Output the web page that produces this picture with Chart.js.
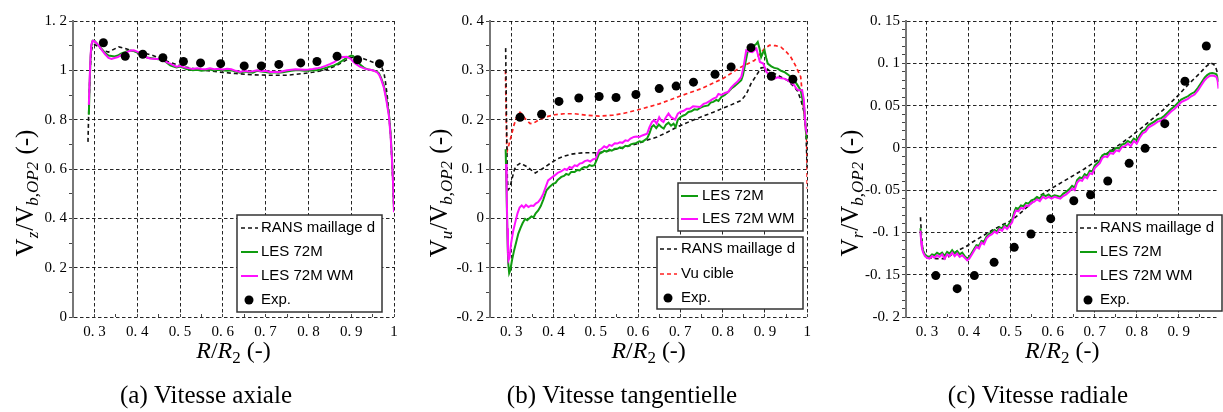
<!DOCTYPE html>
<html>
<head>
<meta charset="utf-8">
<script src="https://cdn.jsdelivr.net/npm/chart.js@4.4.0/dist/chart.umd.min.js"></script>
<style>
  body { margin: 0; background: #fff; }
  #wrap { position: relative; width: 1223px; height: 412px; }
  canvas { position: absolute; top: 0; }
</style>
</head>
<body>
<div id="wrap">
  <canvas id="chart-a" width="410" height="412" style="left:0"></canvas>
  <canvas id="chart-b" width="410" height="412" style="left:410px"></canvas>
  <canvas id="chart-c" width="403" height="412" style="left:820px"></canvas>
</div>
<script>
// ---- tick labels ----
const xTicksAB = [0.3, 0.4, 0.5, 0.6, 0.7, 0.8, 0.9, 1];
const xTicksC = [0.3, 0.4, 0.5, 0.6, 0.7, 0.8, 0.9];
const yTicksA = [0, 0.2, 0.4, 0.6, 0.8, 1, 1.2];
const yTicksB = [-0.2, -0.1, 0, 0.1, 0.2, 0.3, 0.4];
const yTicksC = [-0.2, -0.15, -0.1, -0.05, 0, 0.05, 0.1, 0.15];

const captions = ['(a) Vitesse axiale', '(b) Vitesse tangentielle', '(c) Vitesse radiale'];
const labels = { rans: 'RANS maillage d', les: 'LES 72M', wm: 'LES 72M WM', cible: 'Vu cible', exp: 'Exp.' };

// ---- experimental points (same radial stations for the 3 components) ----
const expX = [0.321, 0.372, 0.413, 0.46, 0.508, 0.548, 0.595, 0.65, 0.69, 0.731, 0.782, 0.82, 0.867, 0.915, 0.966];
const expA = [1.112, 1.057, 1.065, 1.051, 1.036, 1.03, 1.027, 1.018, 1.018, 1.024, 1.03, 1.036, 1.057, 1.043, 1.027];
const expB = [0.205, 0.211, 0.237, 0.244, 0.247, 0.245, 0.251, 0.263, 0.268, 0.276, 0.292, 0.307, 0.346, 0.288, 0.282];
const expC = [-0.151, -0.1665, -0.151, -0.1354, -0.1176, -0.1019, -0.0837, -0.0625, -0.0554, -0.0392, -0.0183, -0.0006, 0.0286, 0.0787, 0.1204];

// ---- (a) axial velocity, [R/R2, Vz] ----
const ransA = [[0.285,0.71],[0.287,0.85],[0.29,1.0],[0.293,1.08],[0.296,1.1],[0.3,1.105],[0.31,1.095],[0.32,1.08],[0.333,1.074],[0.345,1.085],[0.357,1.095],[0.37,1.09],[0.384,1.081],[0.4,1.075],[0.42,1.068],[0.435,1.061],[0.455,1.048],[0.474,1.034],[0.49,1.025],[0.513,1.013],[0.54,1.005],[0.56,1.0],[0.591,0.993],[0.63,0.987],[0.67,0.982],[0.709,0.98],[0.75,0.98],[0.788,0.987],[0.81,0.992],[0.835,1.0],[0.85,1.008],[0.866,1.02],[0.882,1.035],[0.897,1.05],[0.912,1.055],[0.929,1.047],[0.945,1.037],[0.96,1.027],[0.972,1.01],[0.977,0.985],[0.98,0.953],[0.984,0.9],[0.988,0.83],[0.992,0.74],[0.995,0.64],[0.998,0.52],[1.0,0.42]];
const lesA = [[0.287,0.82],[0.289,0.95],[0.291,1.05],[0.293,1.1],[0.296,1.12],[0.3,1.12],[0.305,1.11],[0.31,1.1],[0.318,1.085],[0.325,1.07],[0.333,1.06],[0.34,1.058],[0.347,1.056],[0.355,1.06],[0.362,1.068],[0.369,1.072],[0.377,1.078],[0.385,1.08],[0.392,1.078],[0.4,1.072],[0.408,1.066],[0.415,1.058],[0.423,1.052],[0.43,1.05],[0.438,1.048],[0.445,1.046],[0.455,1.044],[0.462,1.04],[0.47,1.03],[0.477,1.02],[0.485,1.015],[0.492,1.012],[0.5,1.015],[0.508,1.01],[0.515,1.005],[0.523,1.003],[0.53,1.0],[0.54,1.002],[0.55,0.998],[0.56,1.0],[0.57,1.003],[0.58,0.999],[0.59,1.002],[0.6,1.0],[0.61,0.998],[0.62,1.0],[0.63,0.995],[0.64,0.99],[0.65,0.995],[0.66,0.993],[0.67,0.99],[0.68,0.998],[0.69,0.995],[0.7,0.993],[0.71,0.99],[0.72,0.992],[0.73,0.99],[0.74,0.992],[0.75,0.995],[0.76,0.998],[0.77,1.0],[0.78,1.0],[0.79,0.998],[0.8,0.998],[0.81,1.0],[0.82,1.0],[0.83,1.005],[0.84,1.01],[0.85,1.015],[0.86,1.02],[0.87,1.028],[0.88,1.04],[0.89,1.052],[0.9,1.06],[0.905,1.058],[0.91,1.045],[0.92,1.025],[0.93,1.01],[0.94,1.003],[0.95,1.0],[0.96,0.995],[0.965,0.988],[0.97,0.968],[0.976,0.94],[0.982,0.89],[0.988,0.825],[0.992,0.745],[0.995,0.655],[0.998,0.545],[1.0,0.435]];
const wmA = [[0.287,0.86],[0.289,0.97],[0.291,1.06],[0.293,1.105],[0.296,1.12],[0.3,1.118],[0.305,1.11],[0.31,1.1],[0.318,1.081],[0.325,1.065],[0.333,1.05],[0.34,1.046],[0.347,1.05],[0.355,1.054],[0.362,1.062],[0.369,1.068],[0.377,1.075],[0.385,1.08],[0.392,1.081],[0.4,1.076],[0.408,1.068],[0.415,1.06],[0.423,1.052],[0.43,1.048],[0.438,1.047],[0.445,1.046],[0.455,1.047],[0.462,1.04],[0.47,1.032],[0.477,1.027],[0.485,1.02],[0.492,1.015],[0.5,1.018],[0.508,1.013],[0.515,1.01],[0.523,1.008],[0.53,1.005],[0.54,1.008],[0.55,1.005],[0.56,1.004],[0.57,1.008],[0.58,1.004],[0.59,1.006],[0.6,1.003],[0.61,1.006],[0.62,1.004],[0.63,0.998],[0.64,0.993],[0.65,0.998],[0.66,0.995],[0.67,0.996],[0.68,1.0],[0.69,0.996],[0.7,0.998],[0.71,0.993],[0.72,0.994],[0.73,0.992],[0.74,0.996],[0.75,1.0],[0.76,1.002],[0.77,1.004],[0.78,1.003],[0.79,1.002],[0.8,1.003],[0.81,1.005],[0.82,1.008],[0.83,1.012],[0.84,1.018],[0.85,1.025],[0.86,1.033],[0.87,1.045],[0.88,1.054],[0.89,1.055],[0.9,1.045],[0.905,1.035],[0.91,1.027],[0.92,1.015],[0.93,1.008],[0.94,1.003],[0.95,1.0],[0.96,0.993],[0.965,0.983],[0.97,0.963],[0.976,0.932],[0.982,0.88],[0.988,0.815],[0.992,0.735],[0.995,0.645],[0.998,0.535],[1.0,0.425]];

// ---- (b) tangential velocity, [R/R2, Vu] ----
const ransB = [[0.287,0.345],[0.289,0.2],[0.291,0.08],[0.293,0.058],[0.297,0.062],[0.302,0.08],[0.308,0.1],[0.315,0.108],[0.322,0.112],[0.33,0.108],[0.341,0.103],[0.35,0.096],[0.357,0.092],[0.365,0.096],[0.38,0.104],[0.395,0.113],[0.411,0.121],[0.425,0.126],[0.442,0.13],[0.458,0.132],[0.473,0.133],[0.49,0.133],[0.505,0.133],[0.525,0.136],[0.551,0.141],[0.575,0.146],[0.598,0.151],[0.62,0.158],[0.645,0.165],[0.67,0.175],[0.692,0.185],[0.719,0.195],[0.75,0.206],[0.778,0.215],[0.797,0.222],[0.82,0.23],[0.844,0.239],[0.856,0.252],[0.867,0.273],[0.88,0.29],[0.891,0.305],[0.9,0.306],[0.91,0.3],[0.93,0.29],[0.953,0.28],[0.967,0.268],[0.977,0.258],[0.985,0.24],[0.9925,0.215],[0.997,0.17],[1.0,0.1]];
const cibleB = [[0.2865,0.3],[0.288,0.22],[0.2895,0.15],[0.291,0.138],[0.295,0.15],[0.3016,0.172],[0.307,0.19],[0.313,0.205],[0.321,0.215],[0.327,0.21],[0.333,0.202],[0.345,0.192],[0.355,0.194],[0.364,0.199],[0.38,0.205],[0.403,0.21],[0.425,0.212],[0.45,0.212],[0.48,0.209],[0.508,0.207],[0.54,0.209],[0.567,0.213],[0.6,0.22],[0.65,0.232],[0.7,0.248],[0.75,0.263],[0.8,0.283],[0.844,0.307],[0.875,0.32],[0.899,0.344],[0.911,0.351],[0.925,0.35],[0.938,0.347],[0.95,0.338],[0.961,0.327],[0.972,0.31],[0.9845,0.287],[0.9925,0.212],[0.9986,0.165],[1.0,0.06]];
const lesB = [[0.287,0.14],[0.289,0.06],[0.291,-0.03],[0.293,-0.09],[0.2953,-0.111],[0.298,-0.105],[0.302,-0.085],[0.307,-0.065],[0.312,-0.048],[0.317,-0.031],[0.322,-0.02],[0.327,-0.01],[0.333,-0.001],[0.338,-0.004],[0.343,0.0],[0.348,0.004],[0.353,0.002],[0.358,0.01],[0.364,0.016],[0.37,0.025],[0.376,0.038],[0.3836,0.057],[0.39,0.063],[0.399,0.07],[0.405,0.072],[0.41,0.078],[0.4187,0.084],[0.425,0.086],[0.43,0.09],[0.436,0.088],[0.442,0.094],[0.45,0.094],[0.456,0.098],[0.462,0.097],[0.468,0.102],[0.473,0.104],[0.479,0.103],[0.485,0.108],[0.491,0.106],[0.4967,0.1075],[0.502,0.118],[0.508,0.131],[0.514,0.133],[0.52,0.137],[0.526,0.135],[0.532,0.139],[0.538,0.137],[0.545,0.141],[0.551,0.141],[0.557,0.144],[0.563,0.142],[0.57,0.147],[0.576,0.146],[0.583,0.15],[0.59,0.1515],[0.596,0.153],[0.603,0.156],[0.61,0.155],[0.6215,0.162],[0.627,0.172],[0.632,0.185],[0.637,0.189],[0.643,0.183],[0.649,0.19],[0.655,0.185],[0.6607,0.182],[0.666,0.19],[0.672,0.194],[0.678,0.188],[0.684,0.192],[0.689,0.185],[0.694,0.2],[0.7,0.205],[0.706,0.208],[0.712,0.21],[0.719,0.2155],[0.726,0.217],[0.733,0.221],[0.74,0.22],[0.7466,0.224],[0.755,0.227],[0.766,0.229],[0.772,0.235],[0.778,0.236],[0.785,0.24],[0.79,0.238],[0.797,0.246],[0.805,0.25],[0.813,0.256],[0.8206,0.263],[0.828,0.268],[0.836,0.274],[0.844,0.28],[0.848,0.29],[0.852,0.307],[0.856,0.325],[0.8597,0.3407],[0.865,0.345],[0.87,0.348],[0.8754,0.3508],[0.88,0.354],[0.883,0.3575],[0.887,0.345],[0.891,0.327],[0.895,0.335],[0.899,0.3407],[0.903,0.325],[0.9066,0.3137],[0.915,0.308],[0.922,0.305],[0.93,0.3035],[0.938,0.299],[0.9457,0.2967],[0.955,0.291],[0.962,0.286],[0.969,0.28],[0.977,0.27],[0.9845,0.2595],[0.9925,0.2257],[0.9986,0.1649],[1.0,0.16]];
const wmB = [[0.288,0.11],[0.2895,0.05],[0.291,-0.02],[0.2925,-0.07],[0.2937,-0.085],[0.296,-0.08],[0.3,-0.05],[0.305,-0.025],[0.309,-0.0107],[0.315,0.01],[0.32,0.022],[0.325,0.0264],[0.33,0.022],[0.335,0.027],[0.341,0.0227],[0.347,0.026],[0.353,0.025],[0.358,0.03],[0.364,0.033],[0.37,0.04],[0.376,0.05],[0.3874,0.077],[0.395,0.082],[0.403,0.087],[0.41,0.092],[0.418,0.095],[0.4265,0.1],[0.432,0.098],[0.438,0.104],[0.444,0.102],[0.45,0.1075],[0.456,0.106],[0.462,0.111],[0.468,0.112],[0.474,0.116],[0.481,0.1177],[0.487,0.115],[0.494,0.12],[0.5,0.121],[0.504,0.13],[0.508,0.138],[0.514,0.141],[0.52,0.146],[0.526,0.143],[0.532,0.149],[0.538,0.147],[0.545,0.152],[0.551,0.1515],[0.557,0.154],[0.563,0.153],[0.57,0.158],[0.576,0.157],[0.582,0.1616],[0.59,0.165],[0.596,0.166],[0.603,0.165],[0.61,0.168],[0.6215,0.1717],[0.627,0.185],[0.633,0.1953],[0.638,0.199],[0.644,0.192],[0.65,0.205],[0.655,0.198],[0.66,0.1953],[0.666,0.205],[0.672,0.2123],[0.678,0.205],[0.6875,0.2],[0.694,0.212],[0.7,0.2155],[0.708,0.218],[0.715,0.222],[0.722,0.222],[0.73,0.227],[0.7466,0.2257],[0.755,0.232],[0.762,0.234],[0.77,0.238],[0.778,0.2427],[0.785,0.245],[0.79,0.252],[0.797,0.25],[0.805,0.254],[0.813,0.256],[0.82,0.265],[0.828,0.272],[0.836,0.278],[0.844,0.2866],[0.85,0.31],[0.8557,0.3407],[0.862,0.338],[0.87,0.337],[0.8797,0.344],[0.884,0.33],[0.888,0.317],[0.896,0.3137],[0.9035,0.2967],[0.912,0.29],[0.9225,0.2832],[0.93,0.286],[0.938,0.284],[0.9457,0.2832],[0.955,0.279],[0.962,0.275],[0.969,0.2697],[0.975,0.262],[0.98,0.2595],[0.988,0.2595],[0.992,0.24],[0.996,0.185],[1.0,0.17]];

// ---- (c) radial velocity, [R/R2, Vr] ----
const ransC = [[0.2845,-0.082],[0.287,-0.105],[0.29,-0.12],[0.295,-0.127],[0.305,-0.13],[0.322,-0.131],[0.345,-0.131],[0.36,-0.126],[0.375,-0.121],[0.3925,-0.117],[0.41,-0.111],[0.43,-0.105],[0.455,-0.0975],[0.48,-0.091],[0.502,-0.0857],[0.53,-0.074],[0.565,-0.058],[0.6,-0.047],[0.643,-0.0345],[0.675,-0.025],[0.706,-0.0147],[0.745,-0.001],[0.784,0.0128],[0.82,0.027],[0.862,0.0444],[0.895,0.06],[0.925,0.076],[0.95,0.088],[0.965,0.096],[0.976,0.1003],[0.983,0.099],[0.988,0.0956],[0.993,0.088]];
const lesC = [[0.2845,-0.095],[0.286,-0.108],[0.288,-0.117],[0.291,-0.122],[0.295,-0.126],[0.3,-0.128],[0.306,-0.129],[0.312,-0.126],[0.318,-0.127],[0.324,-0.124],[0.33,-0.126],[0.336,-0.124],[0.342,-0.128],[0.348,-0.123],[0.354,-0.125],[0.36,-0.121],[0.366,-0.125],[0.372,-0.122],[0.378,-0.126],[0.384,-0.124],[0.39,-0.128],[0.396,-0.131],[0.401,-0.129],[0.406,-0.125],[0.412,-0.12],[0.418,-0.115],[0.424,-0.116],[0.43,-0.11],[0.436,-0.111],[0.442,-0.105],[0.448,-0.102],[0.455,-0.0995],[0.461,-0.097],[0.467,-0.099],[0.473,-0.094],[0.479,-0.095],[0.485,-0.091],[0.491,-0.093],[0.497,-0.089],[0.503,-0.085],[0.508,-0.076],[0.512,-0.071],[0.518,-0.072],[0.524,-0.068],[0.53,-0.069],[0.536,-0.065],[0.542,-0.066],[0.549,-0.062],[0.555,-0.061],[0.562,-0.058],[0.569,-0.06],[0.576,-0.055],[0.583,-0.057],[0.59,-0.055],[0.597,-0.058],[0.604,-0.056],[0.611,-0.057],[0.618,-0.058],[0.625,-0.054],[0.632,-0.052],[0.639,-0.049],[0.646,-0.045],[0.652,-0.047],[0.658,-0.038],[0.664,-0.035],[0.67,-0.036],[0.676,-0.031],[0.682,-0.033],[0.688,-0.027],[0.694,-0.028],[0.7,-0.021],[0.706,-0.018],[0.712,-0.015],[0.718,-0.009],[0.724,-0.007],[0.73,-0.008],[0.737,-0.003],[0.744,-0.004],[0.751,0.0],[0.758,-0.001],[0.765,0.004],[0.772,0.005],[0.779,0.008],[0.786,0.006],[0.793,0.011],[0.8,0.009],[0.807,0.015],[0.814,0.02],[0.821,0.022],[0.828,0.027],[0.835,0.029],[0.842,0.031],[0.85,0.034],[0.858,0.035],[0.866,0.038],[0.874,0.042],[0.882,0.046],[0.89,0.049],[0.898,0.053],[0.906,0.057],[0.914,0.059],[0.922,0.061],[0.93,0.064],[0.938,0.066],[0.946,0.071],[0.954,0.077],[0.962,0.083],[0.968,0.086],[0.974,0.088],[0.98,0.0885],[0.985,0.088],[0.99,0.087],[0.993,0.083],[0.995,0.078]];
const wmC = [[0.2845,-0.098],[0.286,-0.11],[0.288,-0.119],[0.291,-0.124],[0.295,-0.128],[0.3,-0.13],[0.306,-0.131],[0.312,-0.128],[0.318,-0.13],[0.324,-0.127],[0.33,-0.129],[0.336,-0.126],[0.342,-0.131],[0.348,-0.126],[0.354,-0.128],[0.36,-0.124],[0.366,-0.128],[0.372,-0.125],[0.378,-0.129],[0.384,-0.127],[0.39,-0.13],[0.396,-0.133],[0.401,-0.131],[0.406,-0.127],[0.412,-0.122],[0.418,-0.117],[0.424,-0.119],[0.43,-0.112],[0.436,-0.114],[0.442,-0.107],[0.448,-0.104],[0.455,-0.102],[0.461,-0.099],[0.467,-0.101],[0.473,-0.096],[0.479,-0.098],[0.485,-0.093],[0.491,-0.096],[0.497,-0.092],[0.503,-0.088],[0.508,-0.079],[0.512,-0.074],[0.518,-0.075],[0.524,-0.071],[0.53,-0.072],[0.536,-0.068],[0.542,-0.069],[0.549,-0.065],[0.555,-0.064],[0.562,-0.061],[0.569,-0.063],[0.576,-0.058],[0.583,-0.06],[0.59,-0.058],[0.597,-0.06],[0.604,-0.058],[0.611,-0.059],[0.618,-0.06],[0.625,-0.057],[0.632,-0.055],[0.639,-0.052],[0.646,-0.048],[0.652,-0.05],[0.658,-0.041],[0.664,-0.038],[0.67,-0.039],[0.676,-0.034],[0.682,-0.036],[0.688,-0.03],[0.694,-0.031],[0.7,-0.024],[0.706,-0.021],[0.712,-0.018],[0.718,-0.012],[0.724,-0.01],[0.73,-0.011],[0.737,-0.006],[0.744,-0.007],[0.751,-0.003],[0.758,-0.004],[0.765,0.001],[0.772,0.002],[0.779,0.005],[0.786,0.002],[0.793,0.008],[0.8,0.005],[0.807,0.012],[0.814,0.017],[0.821,0.019],[0.828,0.024],[0.835,0.026],[0.842,0.028],[0.85,0.031],[0.858,0.032],[0.866,0.035],[0.874,0.039],[0.882,0.043],[0.89,0.046],[0.898,0.05],[0.906,0.054],[0.914,0.056],[0.922,0.058],[0.93,0.061],[0.938,0.063],[0.946,0.068],[0.954,0.074],[0.962,0.08],[0.968,0.083],[0.974,0.085],[0.98,0.0855],[0.985,0.085],[0.99,0.084],[0.993,0.079],[0.995,0.07]];

// ---- styles ----
const GREEN = '#109c10', MAGENTA = '#ff10ff', RED = '#ff2020', BLACK = '#111';
const gridColor = 'rgba(0,0,0,0.85)';
const serif = 'Liberation Serif';
const sans = 'Liberation Sans';

function line(label, pts, color, width, dash, order) {
    return {
        label: label,
        data: pts.map(p => ({x: p[0], y: p[1]})),
        showLine: true, tension: 0, fill: false,
        borderColor: color, backgroundColor: color,
        borderWidth: width, borderDash: dash,
        pointRadius: 0, pointHoverRadius: 0,
        order: order
    };
}
function dots(label, xs, ys) {
    return {
        label: label,
        data: xs.map((x, i) => ({x: x, y: ys[i]})),
        showLine: false,
        pointRadius: 4.5, pointHoverRadius: 4.5,
        pointBackgroundColor: '#000', pointBorderColor: '#000', pointBorderWidth: 0,
        order: 0
    };
}

// ticks every "step", used to add minor ticks between the labelled ones
function tickRange(lo, hi, step) {
    const out = [];
    for (let v = lo; v <= hi + 1e-9; v += step) out.push(Math.round(v * 10000) / 10000);
    return out;
}
function findMajor(major, v) {
    return major.find(m => Math.abs(m - v) < 1e-6);
}
function fmt(v) {
    return String(v).replace('.', '. ');
}

function makeScales(p) {
    const xAll = tickRange(0.25, p.xMax, 0.05);
    const yStep = (p.yTicks[1] - p.yTicks[0]) / (p.yMinor + 1);
    const yAll = tickRange(p.yTicks[0], p.yTicks[p.yTicks.length - 1], yStep);
    const tickFont = {family: serif, size: 15};
    return {
        x: {
            type: 'linear', min: 0.25, max: p.xMax,
            afterBuildTicks: s => { s.ticks = xAll.map(v => ({value: v})); },
            afterFit: s => { s.height = 95; },
            border: {display: false, dash: [3.5, 2.5]},
            grid: {
                color: c => (c.tick && findMajor(p.xTicks, c.tick.value) !== undefined) ? gridColor : 'rgba(0,0,0,0)',
                lineWidth: 1, tickLength: -3, tickColor: '#444', tickWidth: 1
            },
            ticks: {
                autoSkip: false, maxRotation: 0, padding: 9, color: '#000', font: tickFont,
                callback: v => { const m = findMajor(p.xTicks, v); return m === undefined ? '' : fmt(m); }
            }
        },
        y: {
            type: 'linear', min: p.yTicks[0], max: p.yTicks[p.yTicks.length - 1],
            afterBuildTicks: s => { s.ticks = yAll.map(v => ({value: v})); },
            afterFit: s => { s.width = p.leftW; },
            border: {display: true, color: '#777', width: 2, dash: [3.5, 2.5]},
            grid: {
                color: c => (c.tick && findMajor(p.yTicks, c.tick.value) !== undefined) ? gridColor : 'rgba(0,0,0,0)',
                lineWidth: 1, tickLength: 4, tickColor: '#444', tickWidth: 1
            },
            ticks: {
                autoSkip: false, padding: 2, color: '#000', font: tickFont,
                callback: v => { const m = findMajor(p.yTicks, v); return m === undefined ? '' : fmt(m); }
            }
        }
    };
}

// text with sub-scripts: parts = [text, size, italic, dy, gap]
function drawRich(ctx, parts, x, y) {
    const widths = parts.map(p => {
        ctx.font = (p[2] ? 'italic ' : '') + p[1] + 'px "' + serif + '"';
        return ctx.measureText(p[0]).width + (p[4] || 0);
    });
    let cx = x - widths.reduce((a, b) => a + b, 0) / 2;
    ctx.textAlign = 'left';
    parts.forEach((p, i) => {
        ctx.font = (p[2] ? 'italic ' : '') + p[1] + 'px "' + serif + '"';
        ctx.fillText(p[0], cx, y + (p[3] || 0));
        cx += widths[i];
    });
}

const panelText = {
    id: 'panelText',
    afterDraw(chart, args, o) {
        const ctx = chart.ctx;
        const area = chart.chartArea;
        ctx.save();
        ctx.fillStyle = '#000';
        ctx.textBaseline = 'alphabetic';

        const yTitle = [['V', 25, false], [o.sub, 17, true, 5, 1], ['/', 25, false], ['V', 25, false],
                        ['b,OP2', 17, true, 5, 1], [' (-)', 25, false]];
        ctx.save();
        ctx.translate(o.yTitleX, 193);
        ctx.rotate(-Math.PI / 2);
        drawRich(ctx, yTitle, 0, 0);
        ctx.restore();

        const xTitle = [['R', 24, true], ['/', 24, false], ['R', 24, true], ['2', 17, false, 5], [' (-)', 24, false]];
        drawRich(ctx, xTitle, (area.left + area.right) / 2, 358);

        ctx.font = '25px "' + serif + '"';
        ctx.textAlign = 'center';
        ctx.fillText(o.caption, o.captionX, 403);

        // legend boxes
        o.legends.forEach(b => {
            ctx.fillStyle = '#fff';
            ctx.fillRect(b.x, b.y, b.w, b.h);
            ctx.lineWidth = 1.5;
            ctx.strokeStyle = '#333';
            ctx.strokeRect(b.x, b.y, b.w, b.h);
            ctx.font = '15px "' + sans + '"';
            ctx.textAlign = 'left';
            ctx.textBaseline = 'middle';
            b.rows.forEach((di, k) => {
                const ds = chart.data.datasets[di];
                const ry = b.rowY[k];
                if (ds.showLine) {
                    ctx.save();
                    ctx.strokeStyle = ds.borderColor;
                    ctx.lineWidth = ds.borderWidth;
                    ctx.setLineDash(ds.borderDash || []);
                    ctx.beginPath();
                    ctx.moveTo(b.sx, ry);
                    ctx.lineTo(b.sx + 17, ry);
                    ctx.stroke();
                    ctx.restore();
                } else {
                    ctx.fillStyle = '#000';
                    ctx.beginPath();
                    ctx.arc(b.sx + 8, ry, 4.5, 0, Math.PI * 2);
                    ctx.fill();
                }
                ctx.fillStyle = '#000';
                ctx.fillText(ds.label, b.tx, ry);
            });
        });
        ctx.restore();
    }
};

function makeChart(id, p, datasets) {
    return new Chart(document.getElementById(id).getContext('2d'), {
        type: 'scatter',
        data: {datasets: datasets},
        options: {
            responsive: false,
            animation: false,
            events: [],
            layout: {padding: {left: 0, top: 21, right: p.padRight, bottom: 0}},
            scales: makeScales(p),
            plugins: {
                legend: {display: false},
                tooltip: {enabled: false},
                panelText: {sub: p.sub, yTitleX: p.yTitleX, caption: p.caption, captionX: p.captionX, legends: p.legends}
            }
        },
        plugins: [panelText]
    });
}

// (a)
makeChart('chart-a', {
    xMax: 1, xTicks: xTicksAB, yTicks: yTicksA, yMinor: 1, leftW: 73, padRight: 16,
    sub: 'z', yTitleX: 33, caption: captions[0], captionX: 206,
    legends: [{x: 237, y: 215, w: 145, h: 97, rows: [0, 1, 2, 3], rowY: [228, 252, 276, 300], sx: 241, tx: 261}]
}, [
    line(labels.rans, ransA, BLACK, 1.6, [4, 3], 3),
    line(labels.les, lesA, GREEN, 2, [], 2),
    line(labels.wm, wmA, MAGENTA, 2, [], 1),
    dots(labels.exp, expX, expA)
]);

// (b)
makeChart('chart-b', {
    xMax: 1, xTicks: xTicksAB, yTicks: yTicksB, yMinor: 1, leftW: 80, padRight: 10,
    sub: 'u', yTitleX: 37, caption: captions[1], captionX: 212,
    legends: [
        {x: 268, y: 183, w: 125, h: 48, rows: [0, 1], rowY: [196, 219], sx: 271, tx: 292},
        {x: 247, y: 237, w: 146, h: 72, rows: [2, 3, 4], rowY: [249, 274, 298], sx: 250, tx: 271}
    ]
}, [
    line(labels.les, lesB, GREEN, 2, [], 2),
    line(labels.wm, wmB, MAGENTA, 2, [], 1),
    line(labels.rans, ransB, BLACK, 1.6, [4, 3], 3),
    line(labels.cible, cibleB, RED, 1.7, [4, 3], 3),
    dots(labels.exp, expX, expB)
]);

// (c)
makeChart('chart-c', {
    xMax: 0.995, xTicks: xTicksC, yTicks: yTicksC, yMinor: 4, leftW: 86, padRight: 0,
    sub: 'r', yTitleX: 38, caption: captions[2], captionX: 218,
    legends: [{x: 257, y: 215, w: 145, h: 96, rows: [0, 1, 2, 3], rowY: [228, 252, 276, 300], sx: 260, tx: 280}]
}, [
    line(labels.rans, ransC, BLACK, 1.6, [4, 3], 3),
    line(labels.les, lesC, GREEN, 2, [], 2),
    line(labels.wm, wmC, MAGENTA, 2, [], 1),
    dots(labels.exp, expX, expC)
]);
</script>
</body>
</html>
